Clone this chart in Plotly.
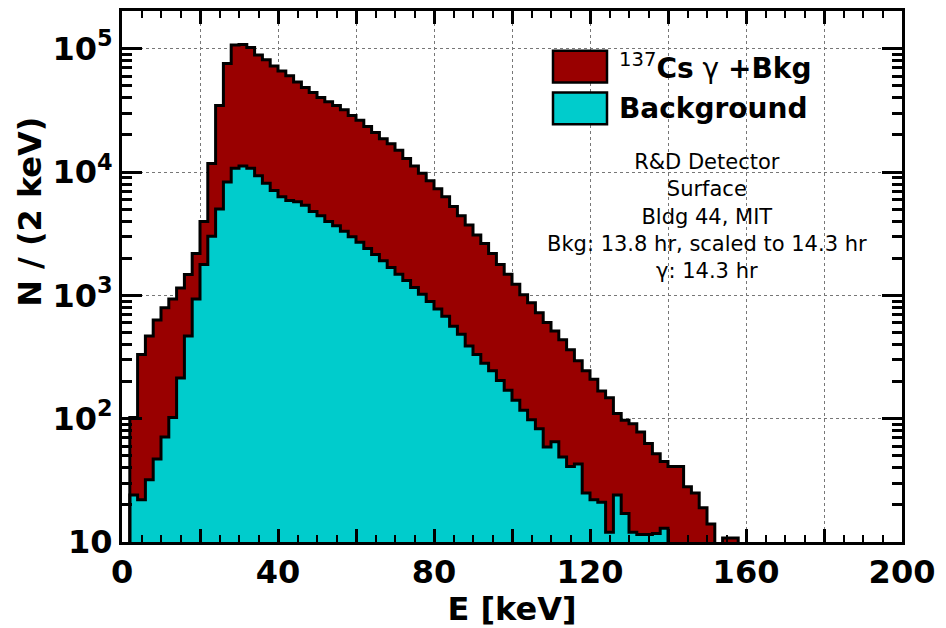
import plotly.graph_objects as go

# 2 keV bins from 0 to 200 keV
bin_width = 2
bin_left = list(range(0, 200, 2))

# Cs-137 gamma + background (counts per 2 keV bin)
total_counts = [0, 102, 331, 468, 631, 794, 933, 1148, 1479, 2188,
                3981, 11750, 34670, 75860, 107200, 108000, 102300, 89100, 81300, 72400,
                66100, 60300, 53700, 48400, 44200, 40300, 37200, 34700, 32000, 28800,
                26300, 23400, 20900, 18600, 17000, 15000, 12900, 11200, 9770, 8510,
                7330, 6310, 5250, 4420, 3720, 3090, 2630, 2190, 1780, 1480,
                1230, 1010, 871, 724, 603, 513, 437, 363, 295, 245,
                209, 168, 148, 110, 97, 91, 78, 63, 52, 45,
                41, 41, 28, 25, 19, 14, 0, 10.8, 10.8, 0] + [0] * 20

# Background (scaled) counts per 2 keV bin
bkg_counts = [0, 24, 22, 32, 47, 71, 102, 214, 468, 933,
              1778, 3020, 5010, 8320, 10720, 11220, 10720, 9330, 8130, 7080,
              6310, 5890, 5750, 5370, 4790, 4420, 3980, 3670, 3310, 2990,
              2690, 2400, 2140, 1910, 1680, 1480, 1320, 1160, 1020, 891,
              776, 676, 562, 484, 389, 331, 282, 245, 204, 170,
              141, 117, 98, 83, 59, 65, 49, 41, 43, 25,
              22, 21, 12, 24, 17, 12, 11.5, 11.5, 11.7, 12.9] + [0] * 30

x_tick_vals = list(range(0, 201, 20))
x_tick_text = ["0", "", "40", "", "80", "", "120", "", "160", "", "200"]
y_tick_vals = [10, 100, 1000, 10000, 100000]
y_tick_text = ["10", "10<sup>2</sup>", "10<sup>3</sup>", "10<sup>4</sup>", "10<sup>5</sup>"]
y_minor_vals = [m * d for d in (10, 100, 1000, 10000, 100000) for m in range(2, 10)]
x_minor_vals = [v for v in range(0, 201, 5) if v % 20]

x_title = "E [keV]"
y_title = "N / (2 keV)"
legend_total = "<sup>137</sup><b>Cs</b> γ <b>+Bkg</b>"
legend_bkg = "<b>Background</b>"
info_lines = ["R&amp;D Detector", "Surface", "Bldg 44, MIT",
              "Bkg: 13.8 hr, scaled to 14.3 hr", "γ: 14.3 hr"]

RED = "#990000"
CYAN = "#00CCCC"
FLOOR = 1  # below axis range, drawn to the bottom frame

centers = [b + bin_width / 2 for b in bin_left]
edges = bin_left + [bin_left[-1] + bin_width]


def step_y(vals):
    v = [c if c > 0 else FLOOR for c in vals]
    return v + [v[-1]]


fig = go.Figure()
fig.add_trace(go.Bar(x=centers, y=[c if c > 0 else None for c in total_counts],
                     width=bin_width, marker=dict(color=RED, line=dict(width=0)),
                     showlegend=False))
fig.add_trace(go.Bar(x=centers, y=[c if c > 0 else None for c in bkg_counts],
                     width=bin_width, marker=dict(color=CYAN, line=dict(width=0)),
                     showlegend=False))
fig.add_trace(go.Scatter(x=edges, y=step_y(total_counts), mode="lines",
                         line=dict(shape="hv", color="black", width=3),
                         showlegend=False))
fig.add_trace(go.Scatter(x=edges, y=step_y(bkg_counts), mode="lines",
                         line=dict(shape="hv", color="black", width=3),
                         showlegend=False))

L, R, T, B = 122, 44, 8, 86
W, H = 946, 628
pw, ph = W - L - R, H - T - B


def px(x):
    return (x - L) / pw


def py(y):
    return (H - B - y) / ph


shapes = [
    dict(type="rect", xref="paper", yref="paper", x0=px(553), x1=px(607), y0=py(80), y1=py(48),
         fillcolor=RED, line=dict(color="black", width=2.5)),
    dict(type="rect", xref="paper", yref="paper", x0=px(553), x1=px(607), y0=py(122), y1=py(90),
         fillcolor=CYAN, line=dict(color="black", width=2.5)),
]

axis_font = dict(family="DejaVu Sans", size=32, color="black", weight="bold")
title_font = dict(family="DejaVu Sans", size=32, color="black", weight="bold")

annotations = [
    dict(xref="paper", yref="paper", x=px(617), y=py(64), xanchor="left", yanchor="middle",
         text=legend_total, showarrow=False, font=dict(family="DejaVu Sans", size=28, color="black")),
    dict(xref="paper", yref="paper", x=px(617), y=py(106), xanchor="left", yanchor="middle",
         text=legend_bkg, showarrow=False, font=dict(family="DejaVu Sans", size=28, color="black")),
    dict(xref="paper", yref="paper", x=px(707), y=py(215), xanchor="center", yanchor="middle",
         text="<br>".join(info_lines), showarrow=False, align="center",
         font=dict(family="DejaVu Sans", size=21, color="black")),
    dict(xref="paper", yref="paper", x=px(30), y=py(210), xanchor="center", yanchor="middle",
         text=y_title, textangle=-90, showarrow=False, font=title_font),
]

fig.update_layout(
    width=W, height=H,
    margin=dict(l=L, r=R, t=T, b=B, pad=0),
    paper_bgcolor="white", plot_bgcolor="white",
    barmode="overlay", bargap=0,
    shapes=shapes, annotations=annotations,
    xaxis=dict(range=[0, 200], tickmode="array", tickvals=x_tick_vals, ticktext=x_tick_text,
               ticks="inside", ticklen=13, tickwidth=2.5, tickcolor="black",
               minor=dict(tickmode="array", tickvals=x_minor_vals, ticks="inside", ticklen=7,
                          tickwidth=2, tickcolor="black", showgrid=False),
               showline=True, linewidth=3, linecolor="black", mirror="ticks",
               showgrid=True, gridcolor="#777777", griddash="dot", gridwidth=1,
               zeroline=False, tickfont=axis_font,
               title=dict(text=x_title, font=title_font, standoff=4)),
    yaxis=dict(type="log", range=[1, 5.306], tickmode="array", tickvals=y_tick_vals,
               ticktext=y_tick_text,
               ticks="inside", ticklen=20, tickwidth=2.5, tickcolor="black",
               minor=dict(tickmode="array", tickvals=y_minor_vals, ticks="inside", ticklen=10,
                          tickwidth=2.5, tickcolor="black", showgrid=False),
               showline=True, linewidth=3, linecolor="black", mirror="ticks",
               showgrid=True, gridcolor="#777777", griddash="dot", gridwidth=1,
               zeroline=False, tickfont=axis_font),
)

fig.write_html("out.html", config={"displayModeBar": False},
               post_script="document.body.style.margin='0';")
